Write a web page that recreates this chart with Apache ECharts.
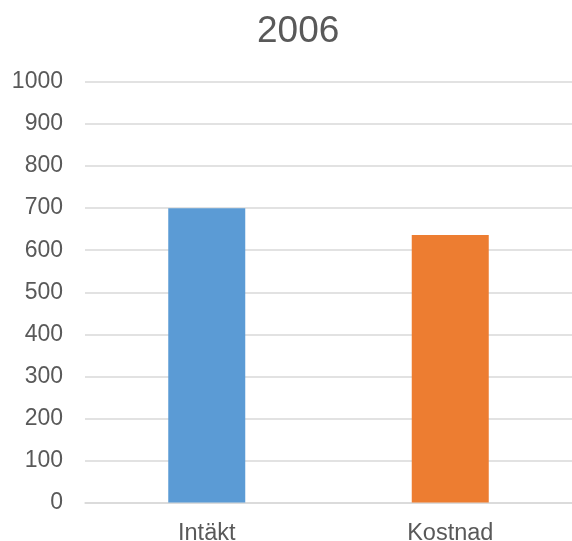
<!DOCTYPE html>
<html>
<head>
<meta charset="utf-8">
<script src="https://cdn.jsdelivr.net/npm/echarts@6/dist/echarts.min.js"></script>
<style>
  html, body { margin: 0; padding: 0; background: #fff; }
  #myChart { width: 572px; height: 541px; }
</style>
</head>
<body>
<div id="myChart"></div>
<script>
  // data
  var categories = ['Intäkt', 'Kostnad'];
  var values = [700, 636];
  var barColors = ['#5B9BD5', '#ED7D31'];
  var yTicks = [0, 1000, 100]; // min, max, step

  var myChart = echarts.init(document.getElementById('myChart'));
  myChart.setOption({
    textStyle: { fontFamily: 'Liberation Sans' },
    title: {
      text: '2006',
      left: 252,
      top: 8,
      textStyle: { fontSize: 37, fontWeight: 'normal', color: '#595959', fontFamily: 'Liberation Sans' }
    },
    grid: { left: 85, right: 0, top: 82, bottom: 38.5, outerBoundsMode: 'none', containLabel: false },
    xAxis: {
      type: 'category',
      data: categories,
      axisLine: { lineStyle: { color: '#d9d9d9', width: 1.5 } },
      axisTick: { show: false },
      axisLabel: { fontSize: 23.5, color: '#595959', margin: 19 }
    },
    yAxis: {
      type: 'value',
      min: yTicks[0],
      max: yTicks[1],
      interval: yTicks[2],
      axisLine: { show: false },
      axisTick: { show: false },
      splitLine: { lineStyle: { color: '#d9d9d9', width: 1.5 } },
      axisLabel: { fontSize: 23, color: '#595959', margin: 22, formatter: function (v) { return String(v); } }
    },
    series: [{
      type: 'bar',
      barWidth: 77,
      data: values.map(function (v, i) {
        return { value: v, itemStyle: { color: barColors[i] } };
      })
    }]
  });
</script>
</body>
</html>
